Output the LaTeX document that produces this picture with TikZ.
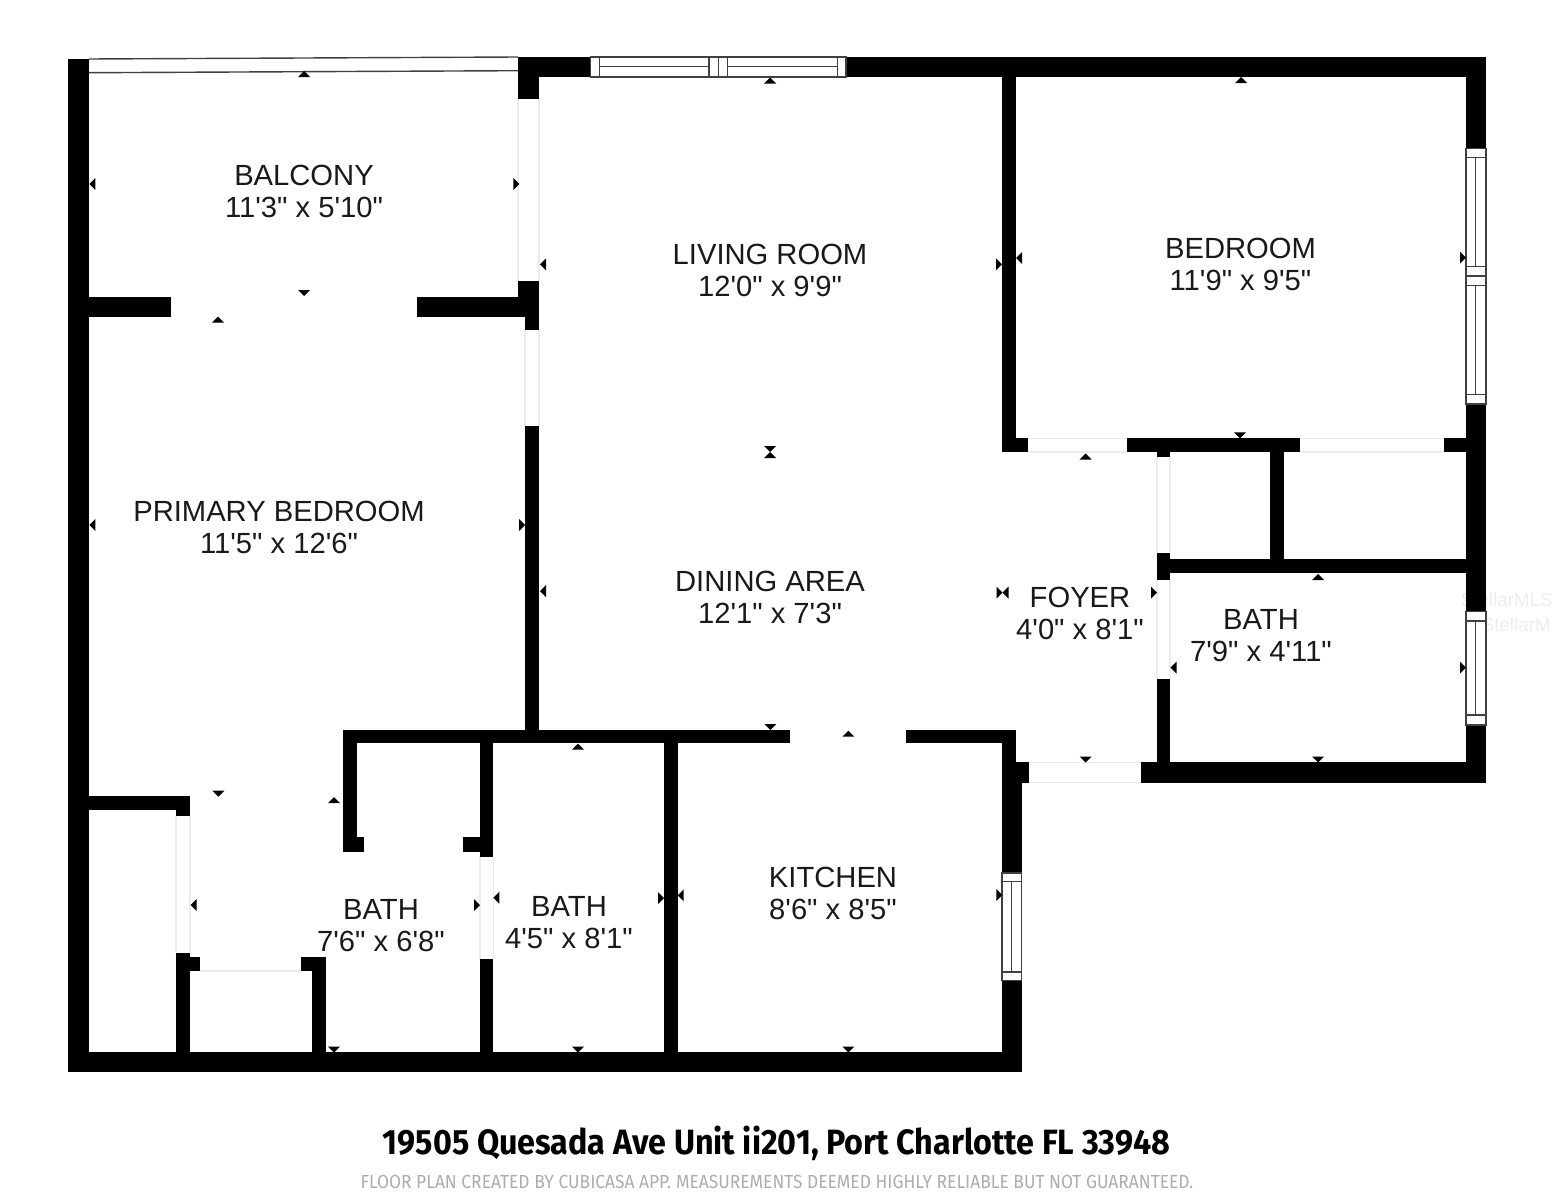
\documentclass[tikz,border=0pt]{standalone}
\usepackage{fontspec}
\newfontfamily\roomfont{Liberation Sans}
\newfontfamily\titlefont[FakeStretch=0.918]{Fira Sans}

\tikzset{
    wall/.style={fill=black},
    frame/.style={draw=black!75, line width=0.35pt, fill=white},
    sash/.style={draw=black!75, line width=0.35pt},
    opening/.style={draw=black!8, line width=0.3pt},
    roomlabel/.style={align=center, inner sep=0pt, text=black!90,
        font=\roomfont\fontsize{8.3}{9.3}\selectfont},
    tick/.style={fill=black},
    stamp/.style={anchor=west, inner sep=0pt, text=black!7,
        font=\roomfont\fontsize{5.35}{7}\selectfont}
}

\begin{document}
\begin{tikzpicture}[x=0.01cm, y=-0.01cm]

    % Page size of the plan
    \useasboundingbox (0,0) rectangle (1553,1200);

    % Faint watermark
    \node[stamp] (markone) at (1460,600) {StellarMLS};
    \node[stamp] (marktwo) at (1481,625) {StellarM};

    % Pale outlines of the openings
    \foreach \xa/\ya/\xb/\yb in {
        518/99/518/281, 539/99/539/281, 525/330/525/426, 539/330/539/426,
        1028/438.5/1127/438.5, 1028/452/1127/452, 1300/438.5/1444/438.5, 1300/452/1444/452,
        1157/457/1157/553, 1170/457/1170/553, 1157/580/1157/679, 1170/580/1170/679,
        176/816/176/953, 190/816/190/953, 200/971/301/971,
        480/857/480/959, 493.3/857/493.3/959,
        1029/762.5/1141/762.5, 1029/782.5/1141/782.5}
        \draw[opening] (\xa,\ya) -- (\xb,\yb);

    % Outer walls
    \foreach \xa/\ya/\xb/\yb in {
        68.3/59.3/89.3/1072, 68.3/1052/1021.7/1072,
        518/57/590.7/77, 846/57/1486/77, 518/57/539/99.3,
        1466/57/1486/148.3, 1466/404/1486/611.7, 1466/725/1486/782.7,
        1141/762.3/1486/782.7,
        1001.7/762/1021.7/873, 1001.7/980.7/1021.7/1072, 1001.7/762/1029/782.7}
        \fill[wall] (\xa,\ya) rectangle (\xb,\yb);

    % Inner walls
    \foreach \xa/\ya/\xb/\yb in {
        89/296.7/170.7/317.3, 416.7/296.7/525/317.3, 518/281/539/317.3, 525/317/539/330,
        525/426/539/743, 343.3/730/790/743.3, 906/730/1015.7/743.3, 1001.7/730/1015.7/763,
        664/743/677.7/1052, 480/743/493.3/857.3, 480/959.3/493.3/1052, 463.3/837.3/480/852,
        343.3/730/356.7/852, 343.3/837.3/364/852,
        89/796.3/190/810, 175.7/796/190/816, 175.7/953.3/190/1052, 175.7/957.3/200/970.7,
        300.7/957.3/326/970.7, 312.3/957.3/326/1052,
        1001.7/77/1015.5/452.3, 1001.7/438.3/1028/452.3, 1127/438.3/1300.3/452.3,
        1444/438.3/1466/452.3, 1156.7/452/1170/457.3, 1270/452/1284/560,
        1156.7/553.3/1170/580, 1170/559.3/1466/573.3, 1156.7/679.3/1170/762.5}
        \fill[wall] (\xa,\ya) rectangle (\xb,\yb);

    % Balcony rail
    \draw[sash, line width=0.4pt] (89,59) -- (518,57);
    \draw[sash, line width=0.4pt] (89,72.7) -- (518,70.7);

    % Top window
    \draw[frame] (590.7,57) rectangle (846,77);
    \foreach \xa in {599.7, 709, 718.3, 727.7, 837.3}
        \draw[sash] (\xa,57) -- (\xa,77);
    \draw[sash] (599.7,66.7) -- (709,66.7);
    \draw[sash] (727.7,66.7) -- (837.3,66.7);

    % Bedroom windows
    \draw[frame] (1466,148.3) rectangle (1486,404);
    \foreach \ya in {157.3, 266.7, 276, 285.7, 394.3}
        \draw[sash] (1466,\ya) -- (1486,\ya);
    \draw[sash] (1475.8,157.3) -- (1475.8,266.7);
    \draw[sash] (1475.8,285.7) -- (1475.8,394.3);

    % Bath window
    \draw[frame] (1466,611.7) rectangle (1486,725);
    \draw[sash] (1466,621) -- (1486,621);
    \draw[sash] (1466,715) -- (1486,715);
    \draw[sash] (1475.8,621) -- (1475.8,715);

    % Kitchen window
    \draw[frame] (1002,873) rectangle (1021.7,980.7);
    \draw[sash] (1002,881.7) -- (1021.7,881.7);
    \draw[sash] (1002,972) -- (1021.7,972);
    \draw[sash] (1011.7,881.7) -- (1011.7,972);

    % Small measuring ticks, pointing up
    \foreach \x/\y in {304/71, 770/77.5, 218/316.7, 1241/77, 770/452, 1085.5/453.5,
        1318/574, 848.3/730.7, 578/743.5, 334/797}
        \fill[tick] (\x,\y) -- ++(6,6) -- ++(-12,0) -- cycle;

    % Pointing down
    \foreach \x/\y in {304/296, 1240/438.3, 770/452, 770.3/730, 1085.5/762.5, 1318/762.5,
        218.3/796.7, 334/1052.5, 578/1052.5, 848.3/1052.5}
        \fill[tick] (\x,\y) -- ++(6,-6) -- ++(-12,0) -- cycle;

    % Pointing left
    \foreach \x/\y in {89.3/184, 540/264.3, 1016/258, 89.3/525, 540/591, 1170.5/667.7,
        1002.5/592.7, 190.7/905, 493.3/897.7, 677.7/895.3}
        \fill[tick] (\x,\y) -- ++(6,-6) -- ++(0,12) -- cycle;

    % Pointing right
    \foreach \x/\y in {519.3/184, 1002/264.3, 1466/257.7, 525/525, 1002.5/592.7,
        1157/592.7, 1466/667.7, 480/905, 664/898, 1002.3/895}
        \fill[tick] (\x,\y) -- ++(-6,-6) -- ++(0,12) -- cycle;

    % Room labels
    \node[roomlabel] (balcony) at (304,191.5) {BALCONY\\11'3" x 5'10"};
    \node[roomlabel] (living) at (770,270.5) {LIVING ROOM\\12'0" x 9'9"};
    \node[roomlabel] (bedroom) at (1240.5,264.5) {BEDROOM\\11'9" x 9'5"};
    \node[roomlabel] (primary) at (279,527.5) {PRIMARY BEDROOM\\11'5" x 12'6"};
    \node[roomlabel] (dining) at (770,597.5) {DINING AREA\\12'1" x 7'3"};
    \node[roomlabel] (foyer) at (1080,613.5) {FOYER\\4'0" x 8'1"};
    \node[roomlabel] (bathe) at (1261,635.5) {BATH\\7'9" x 4'11"};
    \node[roomlabel] (kitchen) at (833,893.5) {KITCHEN\\8'6" x 8'5"};
    \node[roomlabel] (bathw) at (381,925.5) {BATH\\7'6" x 6'8"};
    \node[roomlabel] (bathm) at (569,922.5) {BATH\\4'5" x 8'1"};

    % Address and footer
    \node[inner sep=0pt, font=\titlefont\bfseries\fontsize{10}{12}\selectfont] (address) at (776.5,1143)
        {19505 Quesada Ave Unit ii201, Port Charlotte FL 33948};
    \node[inner sep=0pt, text=black!32, font=\titlefont\fontsize{5.39}{6}\selectfont] (footer) at (777,1182)
        {FLOOR PLAN CREATED BY CUBICASA APP. MEASUREMENTS DEEMED HIGHLY RELIABLE BUT NOT GUARANTEED.};

\end{tikzpicture}
\end{document}
